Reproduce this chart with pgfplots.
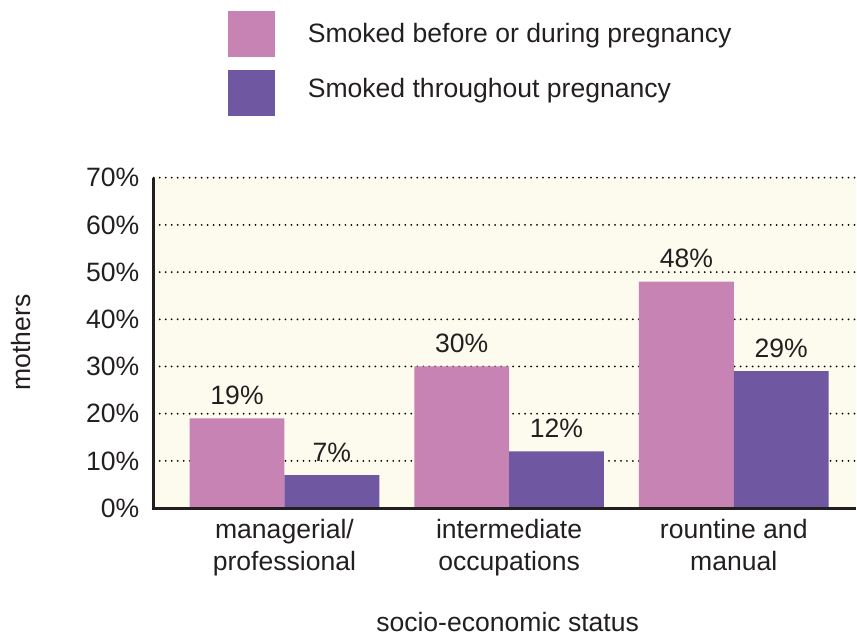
\documentclass[border=0pt]{standalone}
\usepackage{fontspec}
\setmainfont{Liberation Sans}
\usepackage{pgfplots}
\pgfplotsset{compat=1.18}

\definecolor{pinkc}{HTML}{C883B5}
\definecolor{purplec}{HTML}{6F57A1}
\definecolor{bgc}{HTML}{FDFAEE}
\definecolor{txt}{HTML}{231F20}

\begin{document}
\begin{tikzpicture}[font=\fontsize{13.3}{16}\selectfont, color=txt]
\begin{axis}[
  at={(0,0)}, anchor=south west,
  scale only axis, width=351.5pt, height=165.5pt,
  xmin=-0.582, xmax=2.542, ymin=0, ymax=70,
  axis line style={draw=none},
  axis background/.style={fill=bgc},
  ybar, bar width=0.4222,
  xtick={0,1,2},
  xticklabels={{managerial/\\professional},{intermediate\\occupations},{rountine and\\manual}},
  xticklabel style={align=center, inner sep=0pt, yshift=-5.5pt, font=\fontsize{13.3}{16}\selectfont, text=txt},
  ytick={0,10,...,70},
  yticklabel={\pgfmathprintnumber{\tick}\%},
  yticklabel style={inner sep=0pt, xshift=-7pt, text=txt},
  /pgf/number format/assume math mode=true,
  major tick length=0pt,
  ymajorgrids, major grid style={black, line width=1pt, line cap=round, dash pattern=on 0pt off 3pt},
  nodes near coords={\pgfmathprintnumber{\pgfplotspointmeta}\%},
  nodes near coords style={anchor=south, inner sep=0pt, yshift=6.5pt, text=txt, font=\fontsize{13.3}{16}\selectfont},
  clip=false,
]
\addplot[fill=pinkc, draw=none, bar shift=-0.2111] coordinates {(0,19) (1,30) (2,48)};
\addplot[fill=purplec, draw=none, bar shift=0.2111] coordinates {(0,7) (1,12) (2,29)};
\draw[txt, line width=1.5pt] (rel axis cs:0,1) -- (rel axis cs:0,0) -- (rel axis cs:1,0);
\end{axis}
\begin{scope}[x=0.5pt, y=-0.5pt, shift={(-77pt,254.5pt)}]
  \useasboundingbox (0,0) rectangle (857,636);
  \fill[pinkc] (228,11) rectangle (275,57);
  \fill[purplec] (228,70) rectangle (275,116);
  \node[anchor=base west, inner sep=0pt, text=txt] at (308,42.5) {Smoked before or during pregnancy};
  \node[anchor=base west, inner sep=0pt, text=txt] at (308,97.5) {Smoked throughout pregnancy};
  \node[text=txt, inner sep=0pt] at (508.5,623) {socio-economic status};
  \node[text=txt, inner sep=0pt, rotate=90] at (21,343) {mothers};
\end{scope}
\end{tikzpicture}
\end{document}
